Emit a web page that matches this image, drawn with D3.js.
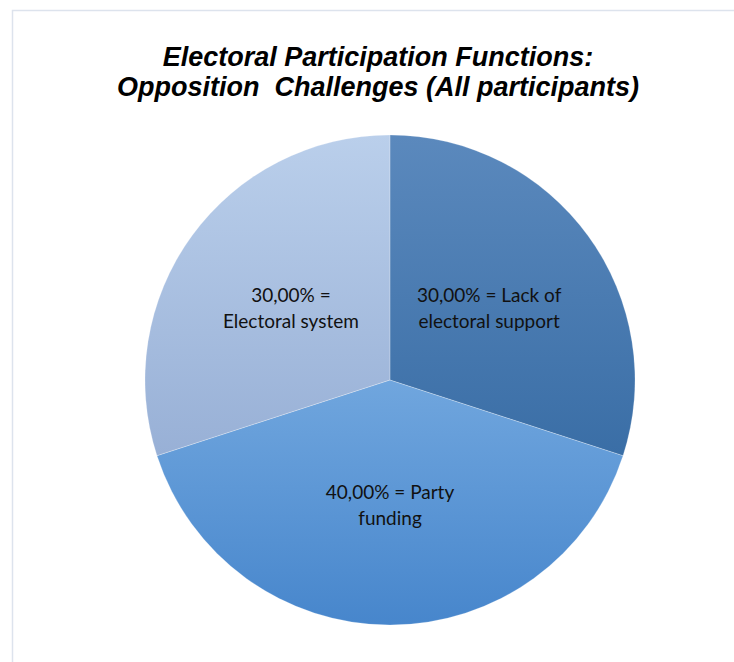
<!DOCTYPE html>
<html>
<head>
<meta charset="utf-8">
<script src="https://cdn.jsdelivr.net/npm/d3@7/dist/d3.min.js"></script>
<style>
  html, body { margin: 0; padding: 0; background: #fff; }
  svg { display: block; }
</style>
</head>
<body>
<svg id="chart" width="734" height="662"></svg>
<script>
// ---- data ----
const categories = ["Lack of electoral support", "Party funding", "Electoral system"];
const values = [30, 40, 30];
const labelLines = [
  ["30,00% = Lack of", "electoral support"],
  ["40,00% = Party", "funding"],
  ["30,00% =", "Electoral system"]
];
const titleLines = ["Electoral Participation Functions:", "Opposition  Challenges (All participants)"];
const gradTop = ["#5b89bd", "#70a6de", "#bacfeb"];
const gradBottom = ["#3a6ea6", "#4786cc", "#98b0d6"];

// ---- layout ----
const W = 734, H = 662;
const cx = 390, cy = 380, R = 245;

const svg = d3.select("#chart");

// chart-area border
svg.append("rect")
  .attr("x", 12.5).attr("y", 10.5)
  .attr("width", W + 20).attr("height", H + 20)
  .attr("fill", "#fff")
  .attr("stroke", "#dde3ed")
  .attr("stroke-width", 1.5);

// title
const title = svg.append("text")
  .attr("text-anchor", "middle")
  .attr("font-family", "Liberation Sans, Arial, sans-serif")
  .attr("font-weight", "bold")
  .attr("font-style", "italic")
  .attr("font-size", 27)
  .attr("fill", "#000")
  .style("white-space", "pre");
titleLines.forEach((t, i) => {
  title.append("tspan")
    .attr("x", 378)
    .attr("y", 66 + i * 30)
    .text(t);
});

// gradients
const defs = svg.append("defs");
categories.forEach((c, i) => {
  const g = defs.append("linearGradient")
    .attr("id", "grad" + i)
    .attr("x1", 0).attr("y1", 0).attr("x2", 0).attr("y2", 1);
  g.append("stop").attr("offset", "0%").attr("stop-color", gradTop[i]);
  g.append("stop").attr("offset", "100%").attr("stop-color", gradBottom[i]);
});

const pie = d3.pie().sort(null).value(d => d)(values);
const arc = d3.arc().innerRadius(0).outerRadius(R);
const labelArc = d3.arc().innerRadius(R * 0.5).outerRadius(R * 0.5);

const g = svg.append("g").attr("transform", `translate(${cx},${cy})`);

g.selectAll("path.slice")
  .data(pie)
  .join("path")
  .attr("class", "slice")
  .attr("d", arc)
  .attr("fill", (d, i) => `url(#grad${i})`)
  .attr("stroke", "none");

g.selectAll("path.sep")
  .data(pie)
  .join("path")
  .attr("class", "sep")
  .attr("d", arc)
  .attr("fill", "none")
  .attr("stroke", "rgba(255,255,255,0.25)")
  .attr("stroke-width", 0.8);

// labels
pie.forEach((d, i) => {
  const [lx, ly] = labelArc.centroid(d);
  const extra = i === 1 ? 2 : 0;
  const t = g.append("text")
    .attr("text-anchor", "middle")
    .attr("font-family", "Lato, 'Open Sans', sans-serif")
    .attr("font-size", 19)
    .attr("fill", "#111");
  labelLines[i].forEach((line, j) => {
    t.append("tspan")
      .attr("x", lx)
      .attr("y", ly + extra + (j - 0.5) * 26 + 7)
      .text(line);
  });
});
</script>
</body>
</html>
